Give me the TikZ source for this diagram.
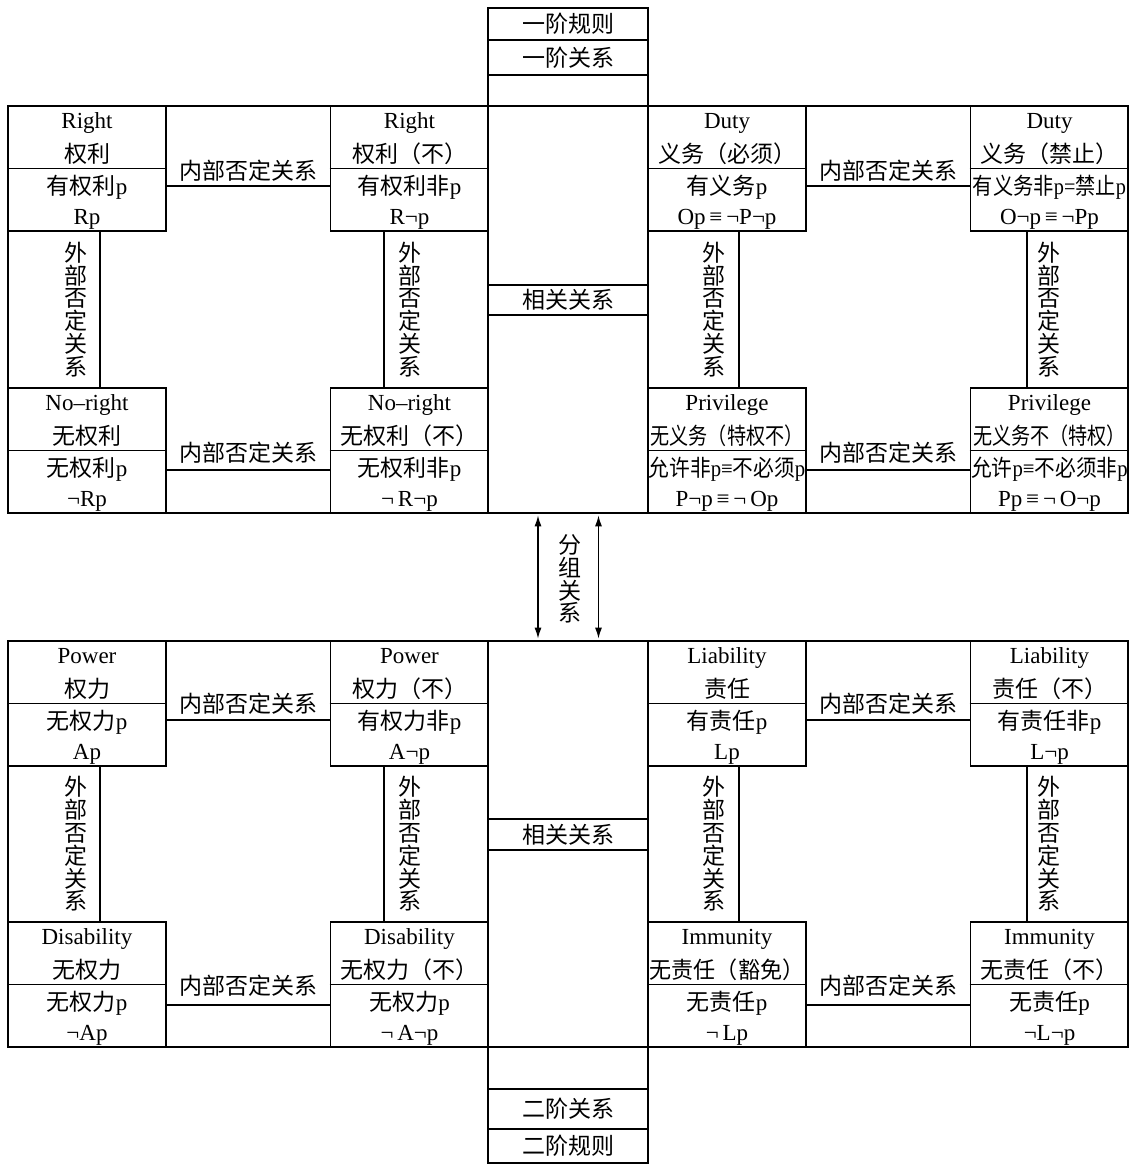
\documentclass[tikz,border=0pt]{standalone}
\usepackage{fontspec}
\usepackage{graphicx}
\setmainfont{Liberation Serif}
\newfontfamily\cjk[Scale=1.0]{Noto Sans CJK SC}
\usetikzlibrary{arrows.meta}
\newcommand\zh[1]{{\cjk #1}}
\newcommand\sq[2]{\scalebox{#1}[1]{#2}}
\tikzset{
  panel/.style={draw, line width=1.7pt, inner sep=0pt, minimum width=1120pt},
  box/.style={draw, line width=1.6pt, inner sep=0pt, minimum width=158pt, minimum height=125pt},
  colbox/.style={draw, line width=1.5pt, inner sep=0pt, minimum width=160pt, font=\cjk\fontsize{23}{27}\selectfont},
  div/.style={line width=1.4pt},
  conn/.style={line width=1.3pt},
  txt/.style={anchor=base, inner sep=0pt, font=\fontsize{23}{27}\selectfont},
  lab/.style={inner sep=0pt, font=\cjk\fontsize{23}{27}\selectfont},
  vlab/.style={inner sep=0pt, align=center, font=\cjk\fontsize{23}{22.8}\selectfont},
  dbl/.style={line width=1.3pt, {Latex[length=11pt,width=7pt]}-{Latex[length=11pt,width=7pt]}}
}
\newcommand\cell[7]{%
  \node[box] (#1) at (#2,#3+62.5) {};
  \draw[div] (#1.west) -- (#1.east);
  \node[txt] (#1-1) at (#2,#3+22.5) {#4};
  \node[txt] (#1-2) at (#2,#3+56) {#5};
  \node[txt] (#1-3) at (#2,#3+88) {#6};
  \node[txt] (#1-4) at (#2,#3+118.5) {#7};
}
\begin{document}
\begin{tikzpicture}[x=1pt,y=-1pt]
\useasboundingbox (0,0) rectangle (1129,1165);

% ---------- top column ----------
\node[colbox, minimum height=32pt] (fr) at (568,24) {一阶规则};
\node[colbox, minimum height=35pt] (frel) at (568,57.5) {一阶关系};
\node[colbox, minimum height=31pt] (fe) at (568,90.5) {};

% ---------- upper panel ----------
\node[panel, minimum height=407pt] (panel1) at (568,309.5) {};
\node[colbox, minimum height=407pt] (col1) at (568,309.5) {};
\node[colbox, minimum height=30pt] (band1) at (568,300) {相关关系};

\cell{A}{87}{106}{Right}{\zh{权利}}{\zh{有权利}p}{Rp}
\cell{B}{409.5}{106}{Right}{\zh{权利（不）}}{\zh{有权利非}p}{R¬p}
\cell{D}{727}{106}{Duty}{\zh{义务（必须）}}{\zh{有义务}p}{Op\,≡\,¬P¬p}
\cell{E}{1049.5}{106}{Duty}{\zh{义务（禁止）}}{\sq{0.88}{\zh{有义务非}p=\zh{禁止}p}}{O¬p\,≡\,¬Pp}
\cell{C}{87}{388}{No–right}{\zh{无权利}}{\zh{无权利}p}{¬Rp}
\cell{F}{409.5}{388}{No–right}{\zh{无权利（不）}}{\zh{无权利非}p}{¬\,R¬p}
\cell{G}{727}{388}{Privilege}{\sq{0.83}{\zh{无义务（特权不）}}}{\sq{0.9}{\zh{允许非}p≡\zh{不必须}p}}{P¬p\,≡\,¬\,Op}
\cell{H}{1049.5}{388}{Privilege}{\sq{0.83}{\zh{无义务不（特权）}}}{\sq{0.9}{\zh{允许}p≡\zh{不必须非}p}}{Pp\,≡\,¬\,O¬p}

% inner negation (upper)
\draw[conn] ([yshift=-17.5pt]A.east) -- ([yshift=-17.5pt]B.west);
\node[lab] (iAB) at (248.5,171) {内部否定关系};
\draw[conn] ([yshift=-17.5pt]D.east) -- ([yshift=-17.5pt]E.west);
\node[lab] (iDE) at (888.5,171) {内部否定关系};
\draw[conn] ([yshift=-19.5pt]C.east) -- ([yshift=-19.5pt]F.west);
\node[lab] (iCF) at (248.5,453) {内部否定关系};
\draw[conn] ([yshift=-19.5pt]G.east) -- ([yshift=-19.5pt]H.west);
\node[lab] (iGH) at (888.5,453) {内部否定关系};

% outer negation (upper)
\draw[conn] ([xshift=13pt]A.south) -- ([xshift=13pt]C.north);
\node[vlab] (eAC) at (76,309.5) {外\\部\\否\\定\\关\\系};
\draw[conn] ([xshift=-25.5pt]B.south) -- ([xshift=-25.5pt]F.north);
\node[vlab] (eBF) at (410,309.5) {外\\部\\否\\定\\关\\系};
\draw[conn] ([xshift=12pt]D.south) -- ([xshift=12pt]G.north);
\node[vlab] (eDG) at (714,309.5) {外\\部\\否\\定\\关\\系};
\draw[conn] ([xshift=-22.5pt]E.south) -- ([xshift=-22.5pt]H.north);
\node[vlab] (eEH) at (1049,309.5) {外\\部\\否\\定\\关\\系};

% ---------- lower panel ----------
\node[panel, minimum height=406pt] (panel2) at (568,844) {};
\node[colbox, minimum height=406pt] (col2) at (568,844) {};
\node[colbox, minimum height=31pt] (band2) at (568,834.5) {相关关系};

\cell{P}{87}{641}{Power}{\zh{权力}}{\zh{无权力}p}{Ap}
\cell{Q}{409.5}{641}{Power}{\zh{权力（不）}}{\zh{有权力非}p}{A¬p}
\cell{L}{727}{641}{Liability}{\zh{责任}}{\zh{有责任}p}{Lp}
\cell{M}{1049.5}{641}{Liability}{\zh{责任（不）}}{\zh{有责任非}p}{L¬p}
\cell{S}{87}{922}{Disability}{\zh{无权力}}{\zh{无权力}p}{¬Ap}
\cell{T}{409.5}{922}{Disability}{\zh{无权力（不）}}{\zh{无权力}p}{¬\,A¬p}
\cell{U}{727}{922}{Immunity}{\sq{0.96}{\zh{无责任（豁免）}}}{\zh{无责任}p}{¬\,Lp}
\cell{V}{1049.5}{922}{Immunity}{\zh{无责任（不）}}{\zh{无责任}p}{¬L¬p}

% inner negation (lower)
\draw[conn] ([yshift=-16.5pt]P.east) -- ([yshift=-16.5pt]Q.west);
\node[lab] (iPQ) at (248.5,703.5) {内部否定关系};
\draw[conn] ([yshift=-16.5pt]L.east) -- ([yshift=-16.5pt]M.west);
\node[lab] (iLM) at (888.5,703.5) {内部否定关系};
\draw[conn] ([yshift=-20.5pt]S.east) -- ([yshift=-20.5pt]T.west);
\node[lab] (iST) at (248.5,986) {内部否定关系};
\draw[conn] ([yshift=-20.5pt]U.east) -- ([yshift=-20.5pt]V.west);
\node[lab] (iUV) at (888.5,986) {内部否定关系};

% outer negation (lower)
\draw[conn] ([xshift=13pt]P.south) -- ([xshift=13pt]S.north);
\node[vlab] (ePS) at (76,844) {外\\部\\否\\定\\关\\系};
\draw[conn] ([xshift=-25.5pt]Q.south) -- ([xshift=-25.5pt]T.north);
\node[vlab] (eQT) at (410,844) {外\\部\\否\\定\\关\\系};
\draw[conn] ([xshift=12pt]L.south) -- ([xshift=12pt]U.north);
\node[vlab] (eLU) at (714,844) {外\\部\\否\\定\\关\\系};
\draw[conn] ([xshift=-22.5pt]M.south) -- ([xshift=-22.5pt]V.north);
\node[vlab] (eMV) at (1049,844) {外\\部\\否\\定\\关\\系};

% ---------- bottom column ----------
\node[colbox, minimum height=42pt] (se) at (568,1068) {};
\node[colbox, minimum height=40pt] (srel) at (568,1109) {二阶关系};
\node[colbox, minimum height=34pt] (sr) at (568,1146) {二阶规则};

% ---------- grouping arrows ----------
\draw[dbl] ([xshift=-30pt,yshift=-1.5pt]panel1.south) -- ([xshift=-30pt,yshift=1.5pt]panel2.north);
\draw[dbl] ([xshift=30.5pt,yshift=-1.5pt]panel1.south) -- ([xshift=30.5pt,yshift=1.5pt]panel2.north);
\node[vlab] (grp) at (570,579) {分\\组\\关\\系};
\end{tikzpicture}
\end{document}
